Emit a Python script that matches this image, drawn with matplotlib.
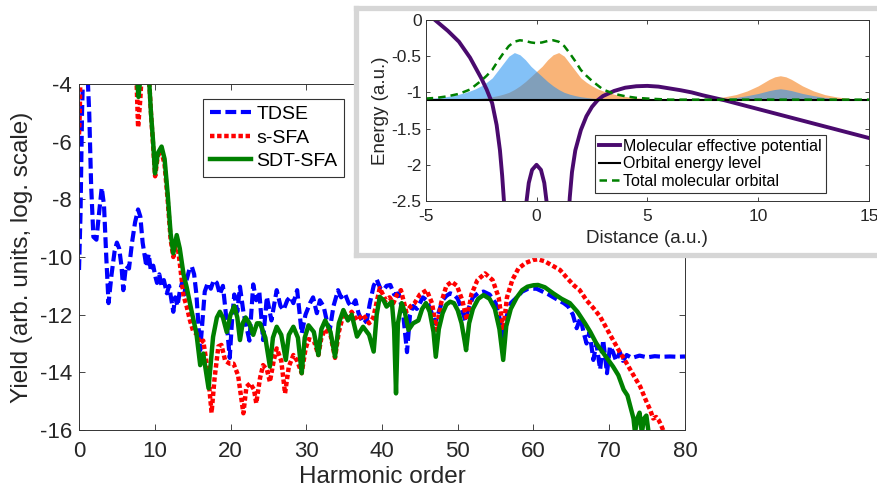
import numpy as np
import matplotlib
matplotlib.use("Agg")
import matplotlib.pyplot as plt

plt.rcParams["font.family"] = ["Liberation Sans", "DejaVu Sans"]
plt.rcParams["axes.unicode_minus"] = False

# ---- main panel: harmonic spectra (log10 yield) ----
h_tdse = [0.0, 0.2, 0.4, 0.55, 1.1, 1.35, 1.6, 1.9, 2.3, 2.6, 3.0, 3.3, 3.6, 3.9, 4.3, 4.7,
          5.0, 5.3, 5.6, 5.85, 6.2, 6.6, 7.0, 7.4, 7.8, 8.1, 8.4, 8.7, 8.9, 9.2, 9.5, 9.8,
          10.1, 10.3, 10.6, 10.9, 11.2, 11.6, 11.9, 12.2, 12.45, 12.7, 13.0, 13.3, 13.6,
          13.9, 14.2, 14.6, 14.9, 15.2, 15.5, 15.8, 16.0, 16.3, 16.6, 17.0, 17.4, 17.8,
          18.2, 18.6, 19.0, 19.4, 19.7, 19.9, 20.2, 20.5, 20.9, 21.25, 21.7, 22.1, 22.5,
          23.0, 23.4, 23.8, 24.3, 24.8, 25.4, 25.8, 26.1, 26.6, 27.0, 27.5, 27.9, 28.3,
          28.8, 29.4, 29.9, 30.5, 30.9, 31.4, 31.8, 32.3, 32.7, 33.1, 33.6, 34.2, 34.6,
          35.1, 35.6, 36.0, 36.5, 36.9, 37.5, 38.0, 38.4, 38.9, 39.3, 39.8, 40.2, 40.6,
          41.1, 41.6, 42.2, 42.8, 43.3, 43.7, 44.1, 44.6, 45.4, 45.9, 46.5, 47.0, 47.5,
          48.0, 48.5, 49.0, 49.5, 50.0, 50.5, 51.0, 51.4, 52.0, 52.7, 53.4, 54.2, 55.0,
          55.6, 56.0, 56.4, 57.0, 57.8, 58.5, 59.3, 60.4, 61.2, 62.0, 62.5, 63.3, 64.0,
          64.6, 65.2, 65.7, 66.2, 66.6, 67.0, 67.4, 67.9, 68.3, 68.8, 69.2, 69.7, 70.1,
          70.5, 70.9, 71.4, 71.8, 72.3, 73.0, 74.0, 75.0, 76.0, 77.0, 78.0, 79.0, 80.0]
y_tdse = [-10.45, -8.5, -5.0, -3.5, -3.5, -5.0, -7.5, -9.3, -9.4, -8.6, -7.6, -8.2, -10.0,
          -11.6, -10.6, -9.8, -9.5, -9.7, -10.3, -11.15, -10.3, -10.4, -9.5, -8.8, -8.35,
          -8.6, -9.5, -10.0, -10.34, -9.9, -10.5, -10.3, -10.7, -10.9, -10.6, -11.0, -10.8,
          -11.26, -11.0, -11.5, -11.9, -11.4, -11.7, -11.2, -10.9, -11.3, -10.8, -10.4,
          -10.34, -10.6, -11.3, -12.5, -13.23, -12.2, -11.2, -10.9, -11.1, -10.8, -10.9,
          -11.3, -11.0, -12.0, -12.9, -13.5, -12.2, -11.3, -11.9, -11.03, -11.9, -12.42,
          -12.9, -10.95, -11.5, -11.2, -12.88, -11.38, -12.2, -11.6, -11.15, -11.7, -11.84,
          -11.5, -11.38, -11.6, -11.15, -12.65, -12.0, -11.6, -11.4, -11.95, -11.5, -11.72,
          -12.2, -12.53, -11.7, -11.15, -11.4, -11.27, -11.6, -11.72, -11.5, -11.95, -12.3,
          -12.2, -11.6, -11.0, -10.78, -11.1, -11.15, -11.0, -10.97, -11.3, -11.26, -12.0,
          -13.3, -12.0, -11.7, -11.8, -11.4, -11.5, -11.9, -12.3, -11.9, -11.5, -11.35,
          -11.26, -11.3, -11.45, -11.8, -12.2, -11.8, -11.4, -11.25, -11.2, -11.3, -11.6,
          -12.2, -12.9, -12.1, -11.6, -11.4, -11.2, -11.1, -11.1, -11.2, -11.3, -11.38,
          -11.5, -11.6, -11.72, -12.0, -12.47, -12.1, -12.6, -13.0, -12.6, -13.57, -13.0,
          -13.9, -12.88, -14.03, -13.1, -13.3, -13.6, -13.3, -13.6, -13.4, -13.5, -13.42,
          -13.48, -13.44, -13.46, -13.45, -13.46, -13.45]

h_ssfa = [0.0, 0.1, 0.2, 1.0, 7.0, 7.55, 7.8, 8.1, 8.3, 9.0, 9.2, 9.5, 9.8, 10.05, 10.4,
          10.85, 11.3, 11.7, 12.1, 12.45, 12.9, 13.3, 13.8, 14.2, 14.65, 15.1, 15.5, 16.0,
          16.4, 16.8, 17.1, 17.5, 17.9, 18.4, 18.8, 19.3, 19.9, 20.4, 21.0, 21.7, 22.1,
          22.6, 23.1, 23.4, 23.9, 24.3, 24.8, 25.2, 25.7, 26.1, 26.7, 27.2, 27.7, 28.3,
          28.8, 29.4, 29.9, 30.3, 31.0, 31.6, 32.0, 32.5, 33.2, 33.8, 34.3, 34.9, 35.5,
          36.0, 36.7, 37.5, 38.3, 38.85, 39.7, 40.5, 41.0, 41.5, 42.0, 42.5, 43.2, 43.8,
          44.3, 45.0, 45.9, 46.6, 47.2, 47.8, 48.5, 49.2, 49.9, 50.6, 51.2, 51.8, 52.6,
          53.6, 54.6, 55.4, 56.0, 56.5, 57.2, 58.0, 59.0, 60.0, 60.6, 61.5, 62.5, 63.5,
          64.5, 65.4, 66.1, 67.0, 68.0, 68.8, 69.7, 70.5, 71.4, 72.3, 73.2, 74.1, 74.8,
          75.4, 75.8, 76.2, 76.5, 76.8, 77.1, 77.3]
y_ssfa = [-5.75, -5.0, -3.5, -2.0, -2.0, -3.5, -5.5, -4.5, -3.5, -2.5, -3.6, -5.0, -6.2,
          -7.2, -6.5, -6.3, -6.8, -8.0, -9.4, -10.0, -9.4, -10.2, -11.35, -11.7, -12.2,
          -12.6, -12.65, -13.0, -12.9, -13.6, -14.25, -15.4, -14.2, -13.1, -13.05, -13.6,
          -13.7, -13.7, -14.1, -15.42, -14.5, -14.38, -14.6, -15.07, -14.2, -13.75, -13.9,
          -14.33, -13.6, -13.17, -13.6, -14.73, -13.8, -13.4, -13.6, -14.03, -13.2, -12.85,
          -12.9, -13.4, -12.8, -12.5, -12.7, -13.5, -12.6, -12.0, -12.1, -11.9, -12.2, -12.0,
          -12.3, -12.1, -11.08, -11.5, -11.4, -11.6, -11.3, -11.15, -11.9, -11.7, -11.6,
          -11.3, -11.15, -11.6, -12.53, -11.6, -11.0, -10.86, -11.0, -11.5, -12.19, -11.3,
          -10.8, -10.57, -10.8, -11.4, -12.53, -11.4, -10.8, -10.4, -10.2, -10.1, -10.08,
          -10.15, -10.3, -10.45, -10.75, -11.0, -11.15, -11.5, -11.8, -12.07, -12.5, -12.88,
          -13.3, -13.69, -14.1, -14.5, -14.95, -15.3, -15.6, -15.55, -15.65, -15.8, -16.0,
          -16.2]

h_sdt = [7.5, 7.6, 7.85, 8.1, 8.3, 9.0, 9.2, 9.5, 9.8, 10.03, 10.4, 10.9, 11.3, 11.7, 12.1,
         12.45, 12.9, 13.3, 13.8, 14.2, 14.8, 15.5, 16.0, 16.4, 17.1, 17.7, 18.2, 18.6,
         19.0, 19.5, 20.0, 20.5, 20.9, 21.25, 21.6, 22.0, 22.5, 23.0, 23.5, 23.9, 24.6,
         25.2, 25.6, 26.1, 26.7, 27.3, 27.7, 28.3, 28.9, 29.4, 29.8, 30.3, 31.0, 31.6,
         32.0, 32.5, 33.2, 33.8, 34.3, 34.9, 35.5, 36.0, 36.7, 37.5, 38.3, 38.9, 39.3,
         39.7, 40.2, 40.6, 41.3, 41.6, 41.85, 42.1, 42.6, 43.0, 43.5, 44.1, 44.8, 45.3,
         45.8, 46.3, 46.8, 47.1, 47.5, 48.0, 48.5, 49.0, 49.5, 50.0, 50.5, 50.9, 51.1,
         51.5, 52.0, 52.7, 53.4, 54.2, 54.9, 55.5, 56.0, 56.4, 57.0, 57.8, 58.5, 59.2,
         60.0, 60.6, 61.5, 62.6, 63.7, 64.8, 65.8, 66.8, 67.5, 68.3, 69.4, 70.5, 71.2,
         71.9, 72.4, 72.8, 73.2, 73.4, 73.7, 74.0, 74.3, 74.6, 74.9, 75.2, 75.5]
y_sdt = [-2.5, -3.6, -4.45, -3.8, -2.5, -2.5, -3.6, -5.0, -6.06, -7.1, -6.4, -6.17, -6.6,
         -7.8, -9.2, -9.87, -9.24, -9.7, -10.6, -11.03, -11.8, -12.65, -13.75, -13.35,
         -14.55, -12.77, -12.1, -11.9, -12.1, -12.6, -12.0, -11.7, -12.1, -12.88, -12.3,
         -12.1, -12.3, -12.7, -12.3, -12.3, -12.8, -13.8, -12.8, -12.42, -12.7, -13.57,
         -12.7, -12.42, -12.8, -14.03, -12.8, -12.37, -12.6, -13.4, -12.5, -12.2, -12.6,
         -13.46, -12.3, -11.84, -12.2, -12.0, -12.76, -12.42, -12.7, -13.28, -12.0, -11.38,
         -11.5, -11.72, -11.55, -12.5, -14.73, -12.3, -11.6, -11.9, -12.53, -12.3, -12.2,
         -11.8, -11.6, -11.9, -12.6, -13.46, -12.5, -11.95, -11.65, -11.55, -11.6, -11.85,
         -12.3, -12.9, -13.23, -12.3, -11.8, -11.45, -11.32, -11.45, -11.8, -12.5, -13.57,
         -12.4, -11.8, -11.4, -11.15, -11.03, -10.98, -10.97, -11.05, -11.26, -11.45, -11.6,
         -11.9, -12.3, -12.6, -13.0, -13.4, -13.8, -14.1, -14.6, -14.8, -15.2, -15.6, -16.1,
         -15.6, -15.4, -16.1, -15.6, -15.5, -16.1, -16.2]

# ---- inset: molecular potential and orbitals ----
x_orb = [-5.0, -4.75, -4.5, -4.25, -4.0, -3.75, -3.5, -3.25, -3.0, -2.75, -2.5, -2.25, -2.0,
         -1.75, -1.5, -1.25, -1.0, -0.75, -0.5, -0.25, 0.0, 0.25, 0.5, 0.75, 1.0, 1.25,
         1.5, 1.75, 2.0, 2.25, 2.5, 2.75, 3.0, 3.25, 3.5, 3.75, 4.0, 4.25, 4.5, 4.75, 5.0]
blue_orb = [-1.085, -1.081, -1.075, -1.066, -1.055, -1.042, -1.025, -1.005, -0.98, -0.95,
            -0.91, -0.86, -0.80, -0.70, -0.60, -0.50, -0.45, -0.48, -0.55, -0.64, -0.71,
            -0.78, -0.85, -0.91, -0.96, -1.00, -1.025, -1.045, -1.06, -1.07, -1.08, -1.085,
            -1.09, -1.093, -1.095, -1.097, -1.098, -1.099, -1.1, -1.1, -1.1]
orange_orb = [-1.1, -1.1, -1.1, -1.099, -1.098, -1.097, -1.095, -1.093, -1.09, -1.085,
              -1.08, -1.07, -1.06, -1.045, -1.025, -1.00, -0.96, -0.91, -0.85, -0.78, -0.71,
              -0.64, -0.55, -0.48, -0.45, -0.50, -0.60, -0.70, -0.80, -0.86, -0.91, -0.95,
              -0.98, -1.005, -1.025, -1.042, -1.055, -1.066, -1.075, -1.081, -1.085]
x_orb2 = [7.0, 7.5, 8.0, 8.5, 9.0, 9.5, 10.0, 10.5, 10.75, 11.0, 11.25, 11.5, 12.0, 12.5,
          13.0, 13.5, 14.0, 14.5, 15.0]
blue_orb2 = [-1.1, -1.097, -1.092, -1.083, -1.07, -1.045, -1.015, -0.975, -0.96, -0.95,
             -0.96, -0.975, -1.015, -1.045, -1.07, -1.083, -1.092, -1.097, -1.1]
orange_orb2 = [-1.1, -1.09, -1.08, -1.06, -1.03, -0.98, -0.91, -0.82, -0.785, -0.77, -0.785,
               -0.82, -0.91, -0.98, -1.03, -1.06, -1.08, -1.09, -1.1]
x_tot = [-5.0, -4.5, -4.0, -3.5, -3.0, -2.5, -2.25, -2.0, -1.75, -1.5, -1.25, -1.0, -0.75,
         -0.5, -0.25, 0.0, 0.25, 0.5, 0.75, 1.0, 1.25, 1.5, 1.75, 2.0, 2.25, 2.5, 3.0, 3.5,
         4.0, 4.5, 5.0, 6.0, 15.0]
y_tot = [-1.085, -1.075, -1.053, -1.02, -0.96, -0.84, -0.77, -0.69, -0.57, -0.46, -0.36,
         -0.30, -0.28, -0.29, -0.31, -0.32, -0.31, -0.29, -0.28, -0.30, -0.36, -0.46, -0.57,
         -0.69, -0.77, -0.84, -0.96, -1.02, -1.053, -1.075, -1.085, -1.1, -1.1]
x_pot = [-4.58, -4.0, -3.5, -3.0, -2.5, -2.25, -2.0, -1.8, -1.65, -1.55, -1.47, -1.4, np.nan,
         -0.55, -0.45, -0.35, -0.2, 0.0, 0.2, 0.35, 0.45, 0.55, np.nan,
         1.4, 1.45, 1.5, 1.6, 1.75, 2.0, 2.25, 2.5, 2.75, 3.0, 3.5, 4.0, 4.5, 5.0, 5.5, 6.0,
         6.5, 7.0, 7.5, 8.0, 8.5, 9.0, 10.0, 11.0, 12.0, 13.0, 14.0, 15.0]
v_pot = [0.0, -0.15, -0.3, -0.52, -0.8, -0.96, -1.15, -1.45, -1.8, -2.15, -2.5, -2.8, np.nan,
         -2.7, -2.5, -2.25, -2.07, -2.0, -2.07, -2.25, -2.5, -2.7, np.nan,
         -3.0, -2.7, -2.45, -2.1, -1.8, -1.52, -1.33, -1.2, -1.11, -1.05, -0.98, -0.935,
         -0.915, -0.91, -0.92, -0.945, -0.97, -1.0, -1.04, -1.075, -1.11, -1.15, -1.23,
         -1.31, -1.39, -1.47, -1.55, -1.63]
e_level = -1.1

W, H = 878, 495
fig = plt.figure(figsize=(W / 100, H / 100), dpi=100)


def box(l, t, r, b):
    return [l / W, 1 - b / H, (r - l) / W, (b - t) / H]


def matlab_axes(ax, size, length):
    ax.tick_params(direction="in", top=True, right=True, length=length, width=0.6,
                   labelsize=size, colors="0.15")
    for s in ax.spines.values():
        s.set_color("0.2")
        s.set_linewidth(0.7)


ax = fig.add_axes(box(79, 84, 685, 430))
ax.plot(h_tdse, y_tdse, color=(0, 0, 1), lw=3.0, dashes=(2.6, 1.1), label="TDSE")
ax.plot(h_ssfa, y_ssfa, color=(1, 0, 0), lw=3.2, dashes=(1.0, 0.6), label="s-SFA")
ax.plot(h_sdt, y_sdt, color=(0, 0.5, 0), lw=3.2, label="SDT-SFA")
ax.set_xlim(0, 80)
ax.set_ylim(-16, -4)
ax.set_xticks(range(0, 81, 10))
ax.set_yticks(range(-16, -3, 2))
matlab_axes(ax, 16, 4)
ax.tick_params(axis="x", pad=8)
ax.tick_params(axis="y", pad=5)
ax.set_xlabel("Harmonic order", fontsize=17.5, color="0.15", labelpad=3)
ax.set_ylabel("Yield (arb. units, log. scale)", fontsize=17.5, color="0.15", labelpad=5)
leg = ax.legend(loc="upper left", bbox_to_anchor=(0.2046, 0.957), borderaxespad=0,
                fontsize=14, handlelength=2.1, handletextpad=0.3, labelspacing=0.3,
                borderpad=0.35, fancybox=False, framealpha=1)
leg.get_frame().set_edgecolor("0.2")
leg.get_frame().set_linewidth(0.8)

# grey frame round the inset
fr = fig.add_axes(box(356.5, 7.5, 884, 255))
fr.set_xticks([])
fr.set_yticks([])
fr.set_facecolor("white")
for s in fr.spines.values():
    s.set_color("#d6d6d6")
    s.set_linewidth(3.8)

ins = fig.add_axes(box(425.7, 20, 869, 201))
ins.fill_between(x_orb, e_level, orange_orb, color="#f5770a", alpha=0.55, lw=0)
ins.fill_between(x_orb, e_level, blue_orb, color="#1e8ef1", alpha=0.55, lw=0)
ins.fill_between(x_orb2, e_level, orange_orb2, color="#f5770a", alpha=0.55, lw=0)
ins.fill_between(x_orb2, e_level, blue_orb2, color="#1e8ef1", alpha=0.55, lw=0)
ins.plot(x_pot, v_pot, color="#4a0a6e", lw=2.8, label="Molecular effective potential")
ins.axhline(e_level, color="black", lw=1.5, label="Orbital energy level")
ins.plot(x_tot, y_tot, color=(0, 0.5, 0), lw=1.8, dashes=(3, 2), label="Total molecular orbital")
ins.set_xlim(-5, 15)
ins.set_ylim(-2.5, 0)
ins.set_xticks([-5, 0, 5, 10, 15])
ins.set_yticks([0, -0.5, -1, -1.5, -2, -2.5])
ins.set_yticklabels(["0", "-0.5", "-1", "-1.5", "-2", "-2.5"])
matlab_axes(ins, 12.5, 3)
ins.tick_params(axis="x", pad=6)
ins.tick_params(axis="y", pad=3)
ins.set_xlabel("Distance (a.u.)", fontsize=13.5, color="0.15", labelpad=4)
ins.set_ylabel("Energy (a.u.)", fontsize=13.5, color="0.15", labelpad=2)
leg2 = ins.legend(loc="upper left", bbox_to_anchor=(0.382, 0.365), borderaxespad=0,
                  fontsize=11.5, handlelength=1.3, handletextpad=0.2, labelspacing=0.15,
                  borderpad=0.25, fancybox=False, framealpha=1)
leg2.get_frame().set_edgecolor("0.2")
leg2.get_frame().set_linewidth(0.8)

fig.savefig("out.png", dpi=100)
